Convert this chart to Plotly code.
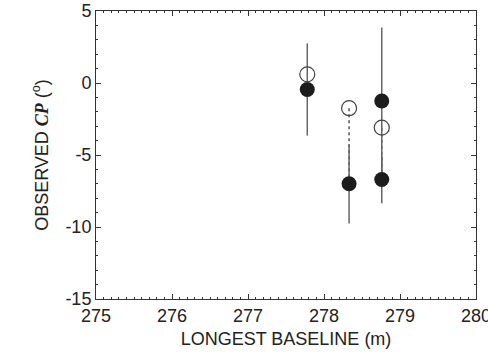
import plotly.graph_objects as go

# Data
baseline_open = [277.78, 278.33, 278.76]
cp_open = [0.6, -1.75, -3.1]

baseline_filled = [277.78, 278.33, 278.76, 278.76]
cp_filled = [-0.45, -7.0, -1.25, -6.7]
cp_filled_err = [3.2, 2.75, 5.1, 1.65]

# pairs (open index, filled index) joined by dotted connectors
pairs = [(1, 1), (2, 3)]

x_ticks = [275, 276, 277, 278, 279, 280]
y_ticks = [5, 0, -5, -10, -15]

fig = go.Figure()

for oi, fi in pairs:
    fig.add_trace(go.Scatter(
        x=[baseline_open[oi], baseline_filled[fi]],
        y=[cp_open[oi], cp_filled[fi]],
        mode="lines",
        line=dict(color="#555555", width=1.5, dash="dot"),
        showlegend=False, hoverinfo="skip"))

fig.add_trace(go.Scatter(
    x=baseline_filled, y=cp_filled, mode="markers",
    marker=dict(size=15, color="#1c1c1c", line=dict(width=0)),
    error_y=dict(type="data", array=cp_filled_err, visible=True,
                 color="#666666", thickness=1.5, width=0),
    showlegend=False))

fig.add_trace(go.Scatter(
    x=baseline_open, y=cp_open, mode="markers",
    marker=dict(size=15, color="rgba(0,0,0,0)",
                line=dict(width=1.2, color="#444444")),
    showlegend=False))

axis_common = dict(
    showline=True, linecolor="#333333", linewidth=1, mirror="ticks",
    ticks="inside", ticklen=5, tickcolor="#333333", tickwidth=1,
    showgrid=False, zeroline=False, ticklabeloverflow="allow", automargin=False,
    tickfont=dict(family="Liberation Sans, Arial, sans-serif", size=18, color="#222222"),
)

fig.update_layout(
    width=488, height=356,
    margin=dict(l=96, r=12, t=11, b=57),
    paper_bgcolor="white", plot_bgcolor="white",
    xaxis=dict(range=[275, 280], tickvals=x_ticks,
               ticktext=[str(v) for v in x_ticks],
               minor=dict(dtick=0.1, ticks="inside", ticklen=2, tickcolor="#333333", showgrid=False),
               title=dict(text="LONGEST BASELINE (m)", standoff=7,
                          font=dict(family="Liberation Sans, Arial, sans-serif", size=18, color="#222222")),
               **axis_common),
    yaxis=dict(range=[-15, 5], tickvals=y_ticks,
               ticktext=[str(v) for v in y_ticks],
               minor=dict(dtick=1, ticks="inside", ticklen=2, tickcolor="#333333", showgrid=False),
               title=dict(text="OBSERVED <span style='font-family:Liberation Serif, Times New Roman, serif'><b><i>CP</i></b></span> (<sup>o</sup>)",
                          standoff=12,
                          font=dict(family="Liberation Sans, Arial, sans-serif", size=18, color="#222222")),
               **axis_common),
)

fig.write_html("out.html")
